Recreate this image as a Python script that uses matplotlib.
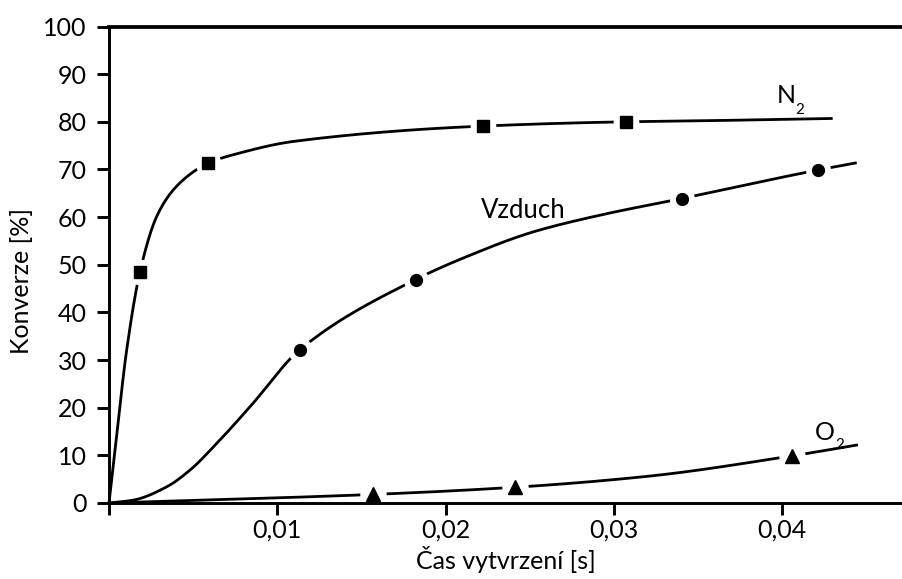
import numpy as np
import matplotlib
matplotlib.use("Agg")
import matplotlib.pyplot as plt

plt.rcParams['font.family'] = ['Lato', 'DejaVu Sans']

# ---- data ----
# measured points (markers)
n2_x = [0.00184, 0.00586, 0.0222, 0.0307]
n2_y = [48.5, 71.3, 79.1, 80.0]
air_x = [0.01135, 0.01822, 0.03403, 0.04215]
air_y = [32.2, 46.9, 63.9, 69.9]
o2_x = [0.0157, 0.0241, 0.0406]
o2_y = [1.8, 3.3, 9.9]

# fitted curves
n2_curve_x = [0.0, 0.00036, 0.00105, 0.00184, 0.00283, 0.00382, 0.00501,
              0.00586, 0.0075, 0.0110, 0.0222, 0.0307, 0.0349, 0.0430]
n2_curve_y = [0.0, 11.1, 32.1, 48.5, 60.1, 65.7, 69.5,
              71.3, 73.2, 75.9, 79.1, 80.0, 80.2, 80.7]
air_curve_x = [0.0, 0.00144, 0.00343, 0.00481, 0.0064, 0.00838, 0.01135,
               0.01822, 0.02125, 0.02521, 0.02917, 0.03403, 0.04215, 0.04443]
air_curve_y = [0.0, 0.6, 3.4, 6.9, 12.5, 20.2, 32.2,
               46.9, 51.7, 56.9, 60.4, 63.9, 69.9, 71.4]
o2_curve_x = [0.0, 0.0157, 0.0241, 0.0320, 0.0406, 0.0445]
o2_curve_y = [0.0, 1.8, 3.3, 5.6, 9.9, 12.2]

x_ticks = [0.0, 0.01, 0.02, 0.03, 0.04]
x_tick_labels = ['', '0,01', '0,02', '0,03', '0,04']
y_ticks = [0, 10, 20, 30, 40, 50, 60, 70, 80, 90, 100]


def pchip(x, y, xn):
    x = np.asarray(x, float); y = np.asarray(y, float)
    h = np.diff(x); d = np.diff(y) / h
    m = np.zeros_like(y)
    for k in range(1, len(x) - 1):
        if d[k - 1] * d[k] > 0:
            w1 = 2 * h[k] + h[k - 1]; w2 = h[k] + 2 * h[k - 1]
            m[k] = (w1 + w2) / (w1 / d[k - 1] + w2 / d[k])
    m[0] = d[0]; m[-1] = d[-1]
    idx = np.clip(np.searchsorted(x, xn) - 1, 0, len(h) - 1)
    t = (xn - x[idx]) / h[idx]
    h00 = 2 * t**3 - 3 * t**2 + 1; h10 = t**3 - 2 * t**2 + t
    h01 = -2 * t**3 + 3 * t**2; h11 = t**3 - t**2
    return h00 * y[idx] + h10 * h[idx] * m[idx] + h01 * y[idx + 1] + h11 * h[idx] * m[idx + 1]


fig = plt.figure(figsize=(9.03, 5.79), dpi=100)
ax = fig.add_axes([109 / 903, 76 / 579, 794 / 903, 476.5 / 579])

lw = 2.0
for cx, cy in [(n2_curve_x, n2_curve_y), (air_curve_x, air_curve_y), (o2_curve_x, o2_curve_y)]:
    xs = np.linspace(cx[0], cx[-1], 800)
    ax.plot(xs, pchip(cx, cy, xs), color='black', lw=lw, zorder=2, solid_capstyle='butt', clip_on=False)

for mx, my, mk, ms in [(n2_x, n2_y, 's', 9), (air_x, air_y, 'o', 8.5), (o2_x, o2_y, '^', 9.5)]:
    ax.plot(mx, my, linestyle='none', marker='o', ms=ms + 9.5, color='white', mec='none', zorder=2.2)
    ax.plot(mx, my, linestyle='none', marker=mk, ms=ms, color='black', mec='black', zorder=3)

ax.set_xlim(0, 0.04718)
ax.set_ylim(0, 100)
ax.set_xticks(x_ticks)
ax.set_xticklabels(x_tick_labels)
ax.set_yticks(y_ticks)
ax.tick_params(axis='both', labelsize=18, width=2.1, length=8.5, color='black', direction='out')
ax.tick_params(axis='y', pad=7.5)
ax.tick_params(axis='x', pad=3)

for s in ['left', 'bottom']:
    ax.spines[s].set_linewidth(2.1)
    ax.spines[s].set_zorder(4)
ax.spines['top'].set_linewidth(2.7)
ax.spines['top'].set_zorder(4)
ax.spines['right'].set_visible(False)

ax.set_ylabel('Konverze [%]', fontsize=18)
ax.yaxis.set_label_coords(-0.0957, 0.466)
ax.set_xlabel('Čas vytvrzení [s]', fontsize=18)
ax.xaxis.set_label_coords(0.5, -0.09)

ax.text(0.0397, 83.9, 'N', fontsize=18, ha='left', va='baseline')
ax.text(0.0408, 81.7, '2', fontsize=11, ha='left', va='baseline')
ax.text(0.02463, 59.8, 'Vzduch', fontsize=18.5, ha='center', va='baseline')
ax.text(0.04195, 13.2, 'O', fontsize=18, ha='left', va='baseline')
ax.text(0.04315, 11.4, '2', fontsize=11, ha='left', va='baseline')

fig.savefig('out.png', dpi=100)
